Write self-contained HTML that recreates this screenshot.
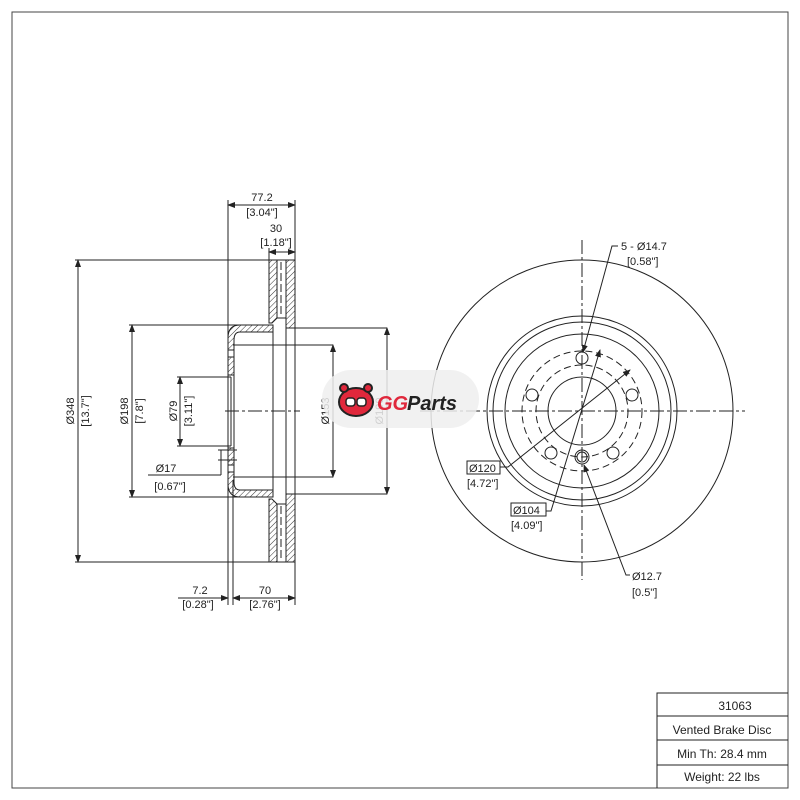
<!DOCTYPE html>
<html><head><style>
html,body{margin:0;padding:0;background:#fff;}
svg{display:block;}
text{font-family:"Liberation Sans",sans-serif;font-size:11px;fill:#222;}
</style></head><body>
<svg width="800" height="800" viewBox="0 0 800 800" xmlns="http://www.w3.org/2000/svg">
<defs>
<pattern id="h" width="4" height="4" patternUnits="userSpaceOnUse" patternTransform="rotate(45)">
<rect width="4" height="4" fill="#fff"/><line x1="0" y1="0" x2="0" y2="4" stroke="#333" stroke-width="1"/>
</pattern>
<marker id="a" markerWidth="8" markerHeight="6" refX="7" refY="3" orient="auto-start-reverse" markerUnits="userSpaceOnUse"><path d="M0,0 L8,3 L0,6 z" fill="#222"/></marker>
</defs>
<rect x="12" y="12" width="776" height="776" fill="none" stroke="#444" stroke-width="1"/>
<g stroke="#222" stroke-width="1" fill="none">
<path d="M269,260 H277 V318 L272,323 H269 Z" fill="url(#h)"/>
<path d="M286,260 H295 V328 H286 V318 Z" fill="url(#h)"/>
<path d="M269,562 H277 V504 L272,499 H269 Z" fill="url(#h)"/>
<path d="M286,562 H295 V494 H286 V504 Z" fill="url(#h)"/>
<line x1="277" y1="260" x2="286" y2="260"/><line x1="277" y1="562" x2="286" y2="562"/>
<line x1="277" y1="318" x2="286" y2="318"/><line x1="277" y1="504" x2="286" y2="504"/>
<line x1="281" y1="262" x2="281" y2="316" stroke-dasharray="8,3"/>
<line x1="281" y1="506" x2="281" y2="560" stroke-dasharray="8,3"/>
<path d="M228,338 Q228,325 240,325 H273 V332 H240 Q234,332 234,340 V350 H228 Z" fill="url(#h)"/>
<path d="M228,484 Q228,497 240,497 H273 V490 H240 Q234,490 234,482 V472 H228 Z" fill="url(#h)"/>
<path d="M228,357 H234 V375 H228 Z" fill="url(#h)"/>
<path d="M228,448 H234 V465 H228 Z" fill="url(#h)"/>
<line x1="228" y1="350" x2="228" y2="472"/>
<line x1="234" y1="350" x2="234" y2="472"/>
<line x1="231" y1="377" x2="231" y2="446"/>
<line x1="233" y1="345" x2="333" y2="345"/><line x1="233" y1="477" x2="333" y2="477"/>
<line x1="273" y1="325" x2="273" y2="497"/><line x1="286" y1="328" x2="286" y2="494"/>
<line x1="295" y1="328" x2="387" y2="328"/><line x1="295" y1="494" x2="387" y2="494"/>
<line x1="225" y1="411" x2="300" y2="411" stroke-dasharray="14,3,3,3"/>
<line x1="228" y1="200" x2="228" y2="605"/><line x1="295" y1="200" x2="295" y2="605"/>
<line x1="233" y1="480" x2="233" y2="605"/>
<line x1="269" y1="248" x2="269" y2="260"/>
<line x1="75" y1="260" x2="269" y2="260"/><line x1="75" y1="562" x2="269" y2="562"/>
<line x1="129" y1="325" x2="240" y2="325"/><line x1="129" y1="497" x2="240" y2="497"/>
<line x1="177" y1="377" x2="231" y2="377"/><line x1="177" y1="446" x2="231" y2="446"/>
<line x1="148" y1="475" x2="221" y2="475"/><line x1="221" y1="450" x2="221" y2="475"/>
<line x1="218" y1="450" x2="237" y2="450"/><line x1="218" y1="460" x2="237" y2="460"/>
<line x1="228" y1="205" x2="295" y2="205" marker-start="url(#a)" marker-end="url(#a)"/>
<line x1="269" y1="252" x2="295" y2="252" marker-start="url(#a)" marker-end="url(#a)"/>
<line x1="78" y1="260" x2="78" y2="562" marker-start="url(#a)" marker-end="url(#a)"/>
<line x1="132" y1="325" x2="132" y2="497" marker-start="url(#a)" marker-end="url(#a)"/>
<line x1="180" y1="377" x2="180" y2="446" marker-start="url(#a)" marker-end="url(#a)"/>
<line x1="333" y1="345" x2="333" y2="477" marker-start="url(#a)" marker-end="url(#a)"/>
<line x1="387" y1="328" x2="387" y2="494" marker-start="url(#a)" marker-end="url(#a)"/>
<line x1="178" y1="598" x2="228" y2="598" marker-end="url(#a)"/>
<line x1="233" y1="598" x2="295" y2="598" marker-start="url(#a)" marker-end="url(#a)"/>
<circle cx="582" cy="411" r="151"/>
<circle cx="582" cy="411" r="95"/>
<circle cx="582" cy="411" r="89"/>
<circle cx="582" cy="411" r="77"/>
<circle cx="582" cy="411" r="34"/>
<circle cx="582" cy="411" r="60" stroke-dasharray="7,4"/>
<circle cx="582" cy="411" r="46" stroke-dasharray="7,4"/>
<circle cx="582" cy="358" r="6"/>
<circle cx="532" cy="395" r="6"/>
<circle cx="632" cy="395" r="6"/>
<circle cx="551" cy="453" r="6"/>
<circle cx="613" cy="453" r="6"/>
<circle cx="582" cy="457" r="7"/><circle cx="582" cy="457" r="5"/>
<line x1="582" y1="240" x2="582" y2="580" stroke-dasharray="14,3,3,3"/>
<line x1="420" y1="411" x2="745" y2="411" stroke-dasharray="14,3,3,3"/>
<path d="M618,246 H612 L583,352" marker-end="url(#a)"/>
<path d="M630,575 H626 L584,465" marker-end="url(#a)"/>
<path d="M500,467 H508 L630,370" marker-end="url(#a)"/>
<path d="M546,511 H551 L600,350" marker-end="url(#a)"/>
<rect x="467" y="461" width="33" height="13"/>
<rect x="511" y="503" width="35" height="13"/>
<path d="M657,788 V693 H788 M657,716 H788 M657,740 H788 M657,765 H788"/>
</g>
<g>
<text x="262" y="201" text-anchor="middle">77.2</text>
<text x="262" y="216" text-anchor="middle">[3.04"]</text>
<text x="276" y="232" text-anchor="middle">30</text>
<text x="276" y="246" text-anchor="middle">[1.18"]</text>
<text x="200" y="594" text-anchor="middle">7.2</text>
<text x="198" y="608" text-anchor="middle">[0.28"]</text>
<text x="265" y="594" text-anchor="middle">70</text>
<text x="265" y="608" text-anchor="middle">[2.76"]</text>
<text x="166" y="472" text-anchor="middle">Ø17</text>
<text x="170" y="490" text-anchor="middle">[0.67"]</text>
<text transform="translate(74,411) rotate(-90)" text-anchor="middle">Ø348</text>
<text transform="translate(89,411) rotate(-90)" text-anchor="middle">[13.7"]</text>
<text transform="translate(128,411) rotate(-90)" text-anchor="middle">Ø198</text>
<text transform="translate(143,411) rotate(-90)" text-anchor="middle">[7.8"]</text>
<text transform="translate(177,411) rotate(-90)" text-anchor="middle">Ø79</text>
<text transform="translate(192,411) rotate(-90)" text-anchor="middle">[3.11"]</text>
<text transform="translate(329,411) rotate(-90)" text-anchor="middle">Ø153</text>
<text transform="translate(383,411) rotate(-90)" text-anchor="middle">Ø190</text>
<text x="621" y="250">5 - Ø14.7</text>
<text x="627" y="265">[0.58"]</text>
<text x="469" y="472">Ø120</text>
<text x="467" y="487">[4.72"]</text>
<text x="513" y="514">Ø104</text>
<text x="511" y="529">[4.09"]</text>
<text x="632" y="580">Ø12.7</text>
<text x="632" y="596">[0.5"]</text>
<text x="735" y="710" text-anchor="middle" style="font-size:12px">31063</text>
<text x="722" y="734" text-anchor="middle" style="font-size:12px">Vented Brake Disc</text>
<text x="722" y="758" text-anchor="middle" style="font-size:12px">Min Th: 28.4 mm</text>
<text x="722" y="781" text-anchor="middle" style="font-size:12px">Weight: 22 lbs</text>
</g>
<rect x="322" y="370" width="157" height="58" rx="29" fill="#eee" opacity="0.85"/>
<ellipse cx="356" cy="402" rx="17" ry="14" fill="#e0283c" stroke="#222" stroke-width="2"/>
<circle cx="344" cy="388" r="4" fill="#e0283c" stroke="#222" stroke-width="2"/>
<circle cx="368" cy="388" r="4" fill="#e0283c" stroke="#222" stroke-width="2"/>
<rect x="346" y="398" width="9" height="8" rx="3" fill="#fff" stroke="#222" stroke-width="1.5"/>
<rect x="357" y="398" width="9" height="8" rx="3" fill="#fff" stroke="#222" stroke-width="1.5"/>
<text x="377" y="410" style="font-size:20px;font-weight:bold;font-style:italic;fill:#e0283c">GG</text>
<text x="407" y="410" style="font-size:20px;font-weight:bold;font-style:italic;fill:#222">Parts</text>
</svg>
</body></html>
